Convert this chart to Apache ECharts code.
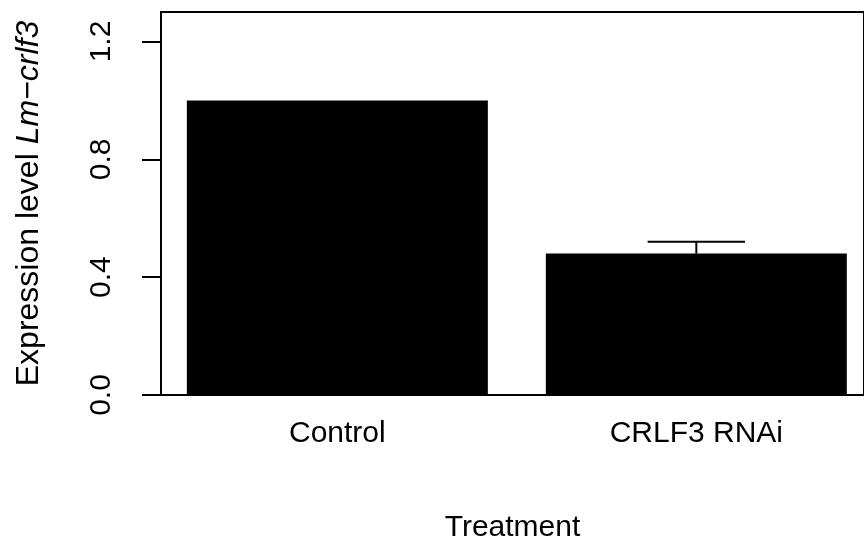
<!DOCTYPE html>
<html>
<head>
<meta charset="utf-8">
<script src="https://cdn.jsdelivr.net/npm/echarts@6/dist/echarts.min.js"></script>
<style>html,body{margin:0;padding:0;background:#fff;}#c{width:864px;height:548px;}</style>
</head>
<body>
<div id="c"></div>
<script>
const categories = ['Control', 'CRLF3 RNAi'];
const barPositions = [0.7, 1.9];
const means = [1.0, 0.48];
const errors = [0.0, 0.04];
const yTicks = [0.0, 0.4, 0.8, 1.2];

const FONT = '"Liberation Sans", Arial, Helvetica, sans-serif';
const FS = 30;

const chart = echarts.init(document.getElementById('c'), null, {renderer: 'canvas'});
const barData = barPositions.map((x, i) => [x, means[i]]);
const errData = barPositions.map((x, i) => [x, means[i], means[i] + errors[i]]).filter((d, i) => errors[i] > 0);

chart.setOption({
  animation: false,
  backgroundColor: '#ffffff',
  grid: {left: 161, right: -2, top: 12, bottom: 153, show: true, borderColor: '#000', borderWidth: 2, backgroundColor: 'transparent'},
  xAxis: {
    type: 'value', min: 0.1105, max: 2.4605,
    axisLine: {show: true, onZero: false, lineStyle: {color: '#000', width: 2}},
    axisTick: {show: false}, axisLabel: {show: false}, splitLine: {show: false},
    name: 'Treatment', nameLocation: 'middle', nameGap: 118,
    nameTextStyle: {fontFamily: FONT, fontSize: FS, color: '#000'}
  },
  yAxis: {
    type: 'value', min: 0, max: 1.3,
    axisLine: {show: true, lineStyle: {color: '#000', width: 2}},
    axisTick: {show: true, length: 19, customValues: yTicks, lineStyle: {color: '#000', width: 2}},
    axisLabel: {show: true, customValues: yTicks, rotate: 90, margin: 44, fontFamily: FONT, fontSize: FS, color: '#000',
      formatter: v => v.toFixed(1)},
    splitLine: {show: false},
    name: '{n|Expression level }{i|Lm\u2212crlf3}', nameLocation: 'middle', nameRotate: 90, nameGap: 116,
    nameTextStyle: {rich: {
      n: {fontFamily: FONT, fontSize: 32, color: '#000'},
      i: {fontFamily: FONT, fontSize: 32, fontStyle: 'italic', color: '#000'}
    }}
  },
  series: [
    {
      type: 'bar', data: barData, barWidth: 301,
      itemStyle: {color: '#000'},
      label: {show: true, position: 'bottom', distance: 24, fontFamily: FONT, fontSize: FS, color: '#000',
        formatter: p => categories[p.dataIndex]}
    },
    {
      type: 'custom', data: errData, z: 10,
      renderItem: function (params, api) {
        const x = api.value(0);
        const lo = api.coord([x, api.value(1)]);
        const hi = api.coord([x, api.value(2)]);
        const half = 48.7;
        const style = {stroke: '#000', lineWidth: 2};
        return {type: 'group', children: [
          {type: 'line', shape: {x1: lo[0], y1: lo[1], x2: hi[0], y2: hi[1]}, style: style},
          {type: 'line', shape: {x1: hi[0] - half, y1: hi[1], x2: hi[0] + half, y2: hi[1]}, style: style}
        ]};
      }
    }
  ]
});
</script>
</body>
</html>
